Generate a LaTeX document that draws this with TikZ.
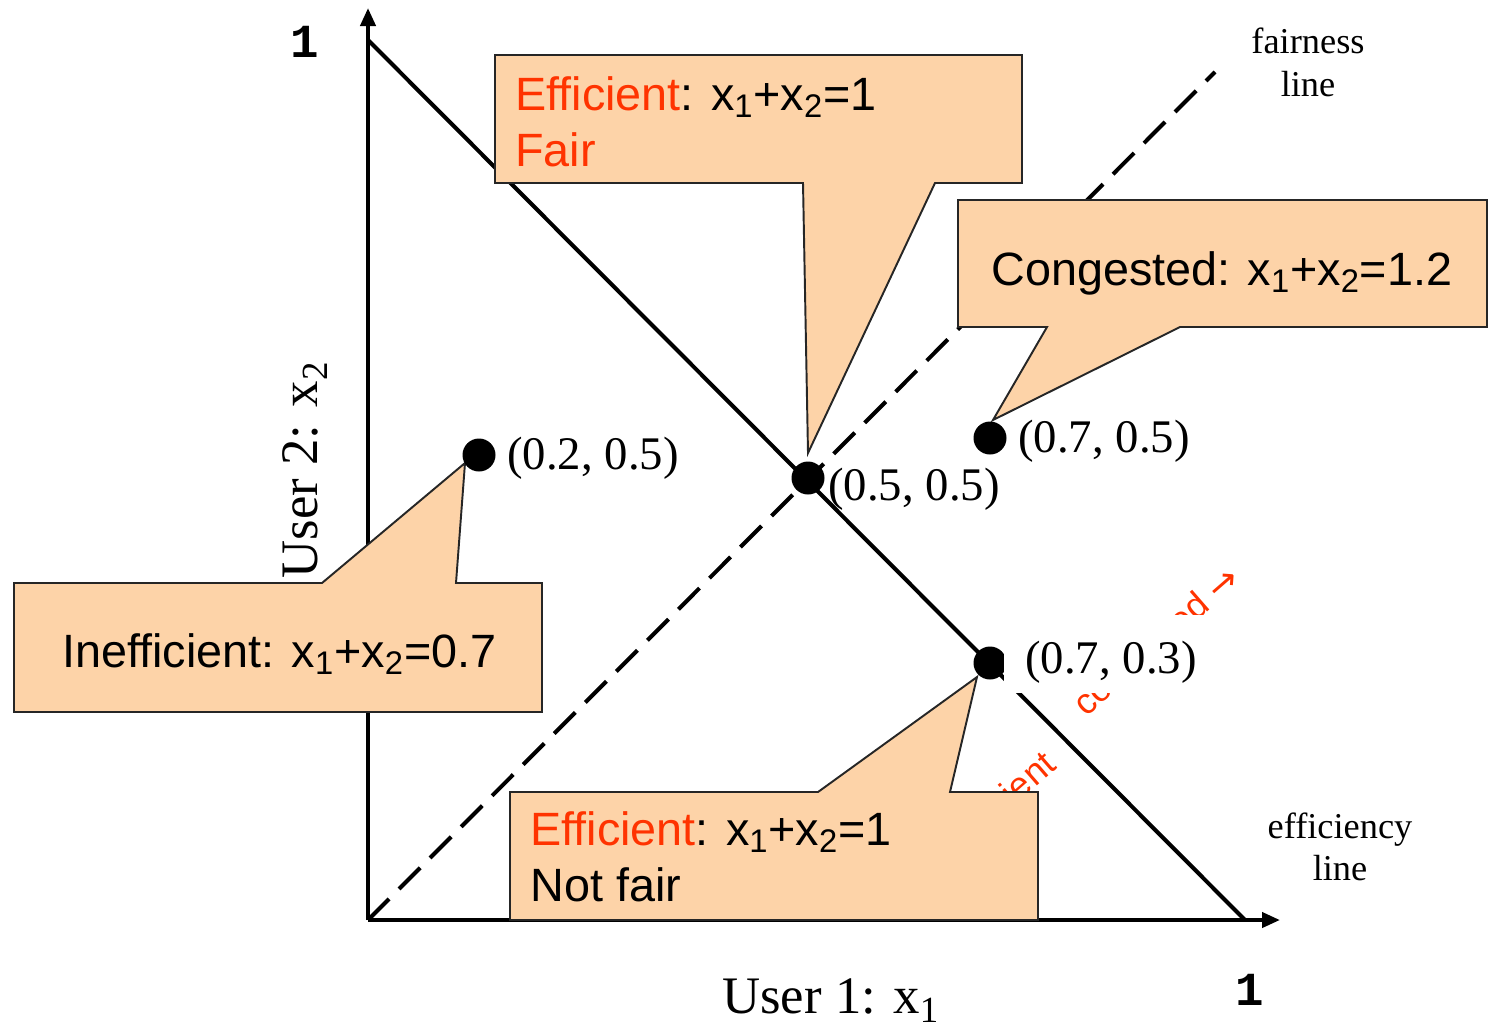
\documentclass[tikz,border=0pt]{standalone}
\usepackage{fontspec}
\setmainfont{Liberation Serif}
\newfontfamily\sansf{Liberation Sans}
\newfontfamily\monof{Liberation Mono}
\newfontfamily\dejavu{DejaVu Sans}
\usetikzlibrary{arrows.meta}
\definecolor{peach}{HTML}{FDD3A8}
\definecolor{ored}{HTML}{FF3300}
\begin{document}
\begin{tikzpicture}[x=0.02cm,y=-0.02cm,
  axis/.style={line width=2.3pt,-{Triangle[length=0.36cm,width=0.3cm]}},
  effline/.style={line width=2.3pt},
  fairline/.style={line width=2.3pt,dash pattern=on 17pt off 8pt},
  callout/.style={fill=peach,draw=black!85,line width=1.1pt,line join=miter},
  dot/.style={circle,fill=black,minimum size=0.66cm,inner sep=0pt},
  coordlbl/.style={font=\fontsize{26.6}{30}\selectfont,inner sep=0pt,anchor=base west},
  ctext/.style={font=\sansf\fontsize{26.6}{30}\selectfont,inner sep=0pt,anchor=base west},
  smalllbl/.style={font=\fontsize{20.7}{24}\selectfont,inner sep=0pt,anchor=base},
  userlbl/.style={font=\fontsize{30}{34}\selectfont,inner sep=0pt},
  onelbl/.style={font=\monof\bfseries\fontsize{27}{30}\selectfont,inner sep=0pt},
  redtxt/.style={font=\sansf\fontsize{20.5}{22}\selectfont,text=ored,inner sep=0pt,rotate=41}]
\useasboundingbox (0,0) rectangle (1490,1029);

% axes and lines
\coordinate (O) at (368,920);
\coordinate (ytip) at (368,8);
\coordinate (xtip) at (1280,920);
\coordinate (e1) at (368,40);
\coordinate (e2) at (1245,920);
\coordinate (f2) at (1215,72);
\draw[axis] (O) -- (ytip);
\draw[axis] (O) -- (xtip);
\draw[effline] (e1) -- (e2);
\draw[fairline] (O) -- (f2);

% red partially hidden text
\node[redtxt,anchor=base west] (rc) at (1086,718) {congested {\dejavu →}};
\node[redtxt,anchor=base east] (ri) at (1058,768) {Inefficient};

% callouts
\draw[callout] (495,55) -- (1022,55) -- (1022,183) -- (935,183) -- (808,453) -- (803,183) -- (495,183) -- cycle;
\draw[callout] (958,200) -- (1487,200) -- (1487,327) -- (1180,327) -- (993,420) -- (1047,327) -- (958,327) -- cycle;
\draw[callout] (14,583) -- (322,583) -- (465,463) -- (456,583) -- (542,583) -- (542,712) -- (14,712) -- cycle;
\draw[callout] (510,792) -- (818,792) -- (977,677) -- (950,792) -- (1038,792) -- (1038,920) -- (510,920) -- cycle;

\node[ctext] (t1a) at (515,110) {\textcolor{ored}{Efficient}: x\textsubscript{1}+x\textsubscript{2}=1};
\node[ctext,text=ored] (t1b) at (515,166) {Fair};
\node[ctext] (t2) at (991,285) {Congested: x\textsubscript{1}+x\textsubscript{2}=1.2};
\node[ctext] (t3) at (62,667) {Inefficient: x\textsubscript{1}+x\textsubscript{2}=0.7};
\node[ctext] (t4a) at (530,845) {\textcolor{ored}{Efficient}: x\textsubscript{1}+x\textsubscript{2}=1};
\node[ctext] (t4b) at (530,901) {Not fair};

% points
\node[dot] (p1) at (479,455) {};
\node[dot] (p2) at (808,478) {};
\node[dot] (p3) at (990,438) {};
\node[dot] (p4) at (990,663) {};

\node[coordlbl] (l1) at (507,469) {(0.2, 0.5)};
\node[coordlbl] (l2) at (828,500) {(0.5, 0.5)};
\node[coordlbl] (l3) at (1018,452) {(0.7, 0.5)};
\node[coordlbl,fill=white,inner xsep=0.42cm,inner ysep=0pt,text height=1.16cm,text depth=0.4cm] (l4) at (1004,673) {(0.7, 0.3)};

% axis texts
\node[smalllbl] (fa) at (1308,53) {fairness};
\node[smalllbl] (fb) at (1308,96) {line};
\node[smalllbl] (ea) at (1340,838) {efficiency};
\node[smalllbl] (eb) at (1340,880) {line};
\node[userlbl,anchor=base west] (u1) at (722,1013) {User 1: x\textsubscript{1}};
\node[userlbl,rotate=90] (u2) at (305,470) {User 2: x\textsubscript{2}};
\node[onelbl] (oy) at (305,42) {1};
\node[onelbl] (ox) at (1250,990) {1};
\end{tikzpicture}
\end{document}
